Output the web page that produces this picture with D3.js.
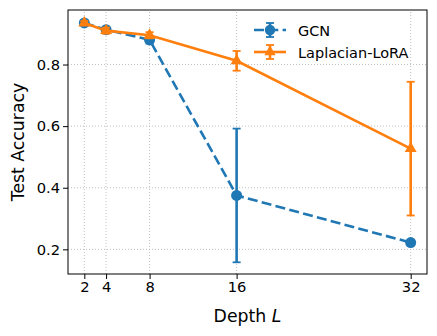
<!DOCTYPE html>
<html>
<head>
<meta charset="utf-8">
<script src="https://cdn.jsdelivr.net/npm/d3@7"></script>
<style>
  body { margin: 0; background: #fff; }
  svg { font-family: "DejaVu Sans", sans-serif; }
</style>
</head>
<body>
<script>
// data
const depths = [2, 4, 8, 16, 32];
const gcnAcc = [0.935, 0.913, 0.880, 0.375, 0.222];
const gcnErr = [0.008, 0.008, 0.012, 0.217, 0.006];
const loraAcc = [0.935, 0.910, 0.895, 0.812, 0.527];
const loraErr = [0.006, 0.010, 0.010, 0.032, 0.217];
const xTicks = [2, 4, 8, 16, 32];
const yTicks = [0.2, 0.4, 0.6, 0.8];

const W = 437, H = 336;
const m = {left: 68, right: 10, top: 10, bottom: 62};

const svg = d3.select('body').append('svg')
  .attr('width', W).attr('height', H);

const x = d3.scaleLinear().domain([0.5, 33.5]).range([m.left, W - m.right]);
const y = d3.scaleLinear().domain([0.12, 0.977]).range([H - m.bottom, m.top]);

// grid
svg.append('g').selectAll('line').data(xTicks).enter().append('line')
  .attr('x1', d => x(d)).attr('x2', d => x(d))
  .attr('y1', y.range()[0]).attr('y2', y.range()[1])
  .attr('stroke', '#b0b0b0').attr('stroke-width', 0.8).attr('stroke-dasharray', '1,2');
svg.append('g').selectAll('line').data(yTicks).enter().append('line')
  .attr('y1', d => y(d)).attr('y2', d => y(d))
  .attr('x1', x.range()[0]).attr('x2', x.range()[1])
  .attr('stroke', '#b0b0b0').attr('stroke-width', 0.8).attr('stroke-dasharray', '1,2');

// axes
const xAxis = svg.append('g').attr('transform', `translate(0,${H - m.bottom})`)
  .call(d3.axisBottom(x).tickValues(xTicks).tickSize(5).tickPadding(3));
const yAxis = svg.append('g').attr('transform', `translate(${m.left},0)`)
  .call(d3.axisLeft(y).tickValues(yTicks).tickFormat(d3.format('.1f')).tickSize(5).tickPadding(3));
[xAxis, yAxis].forEach(a => {
  a.select('.domain').remove();
  a.selectAll('text').attr('font-size', 14.7).attr('fill', '#000').attr('font-family', 'DejaVu Sans');
  a.selectAll('line').attr('stroke', '#000').attr('stroke-width', 1);
});

// frame
svg.append('rect')
  .attr('x', m.left).attr('y', m.top)
  .attr('width', W - m.left - m.right).attr('height', H - m.top - m.bottom)
  .attr('fill', 'none').attr('stroke', '#000').attr('stroke-width', 1);

const series = [
  {name: 'GCN', acc: gcnAcc, err: gcnErr, color: '#1f77b4', dash: '10,4.3', marker: d3.symbolCircle, size: 95},
  {name: 'Laplacian-LoRA', acc: loraAcc, err: loraErr, color: '#ff7f0e', dash: null, marker: d3.symbolTriangle, size: 62}
];

const line = d3.line().x(d => x(d[0])).y(d => y(d[1]));

series.forEach(s => {
  const pts = depths.map((d, i) => [d, s.acc[i], s.err[i]]);
  const g = svg.append('g');
  g.append('path').datum(pts).attr('d', line)
    .attr('fill', 'none').attr('stroke', s.color).attr('stroke-width', 2.6)
    .attr('stroke-dasharray', s.dash);
  const eb = g.selectAll('.eb').data(pts).enter().append('g');
  eb.append('line')
    .attr('x1', d => x(d[0])).attr('x2', d => x(d[0]))
    .attr('y1', d => y(d[1] - d[2])).attr('y2', d => y(d[1] + d[2]))
    .attr('stroke', s.color).attr('stroke-width', 2.6);
  [-1, 1].forEach(sg => {
    eb.append('line')
      .attr('x1', d => x(d[0]) - 4).attr('x2', d => x(d[0]) + 4)
      .attr('y1', d => y(d[1] + sg * d[2])).attr('y2', d => y(d[1] + sg * d[2]))
      .attr('stroke', s.color).attr('stroke-width', 1.8);
  });
  g.selectAll('.mk').data(pts).enter().append('path')
    .attr('d', d3.symbol().type(s.marker).size(s.size))
    .attr('transform', d => `translate(${x(d[0])},${y(d[1])})`)
    .attr('fill', s.color);
});

// legend
const lg = svg.append('g').attr('transform', 'translate(254,30)');
series.forEach((s, i) => {
  const row = lg.append('g').attr('transform', `translate(0,${i * 22})`);
  row.append('line').attr('x1', 0).attr('x2', 32).attr('y1', 0).attr('y2', 0)
    .attr('stroke', s.color).attr('stroke-width', 2.6).attr('stroke-dasharray', s.dash ? '10,4.3' : null);
  row.append('line').attr('x1', 16).attr('x2', 16).attr('y1', -7).attr('y2', 7)
    .attr('stroke', s.color).attr('stroke-width', 2.6);
  [-7, 7].forEach(v => row.append('line').attr('x1', 12).attr('x2', 20).attr('y1', v).attr('y2', v)
    .attr('stroke', s.color).attr('stroke-width', 1.8));
  row.append('path').attr('d', d3.symbol().type(s.marker).size(s.size * 0.9)).attr('transform', 'translate(16,0)')
    .attr('fill', s.color);
  row.append('text').attr('x', 44).attr('y', 5.5).attr('font-size', 14.5).text(s.name);
});

// labels
svg.append('text').attr('x', (m.left + W - m.right) / 2).attr('y', 322)
  .attr('text-anchor', 'middle').attr('font-size', 17.3)
  .html('Depth <tspan font-style="italic">L</tspan>');
svg.append('text').attr('transform', `translate(24,${(m.top + H - m.bottom) / 2}) rotate(-90)`)
  .attr('text-anchor', 'middle').attr('font-size', 17.3).text('Test Accuracy');
</script>
</body>
</html>
